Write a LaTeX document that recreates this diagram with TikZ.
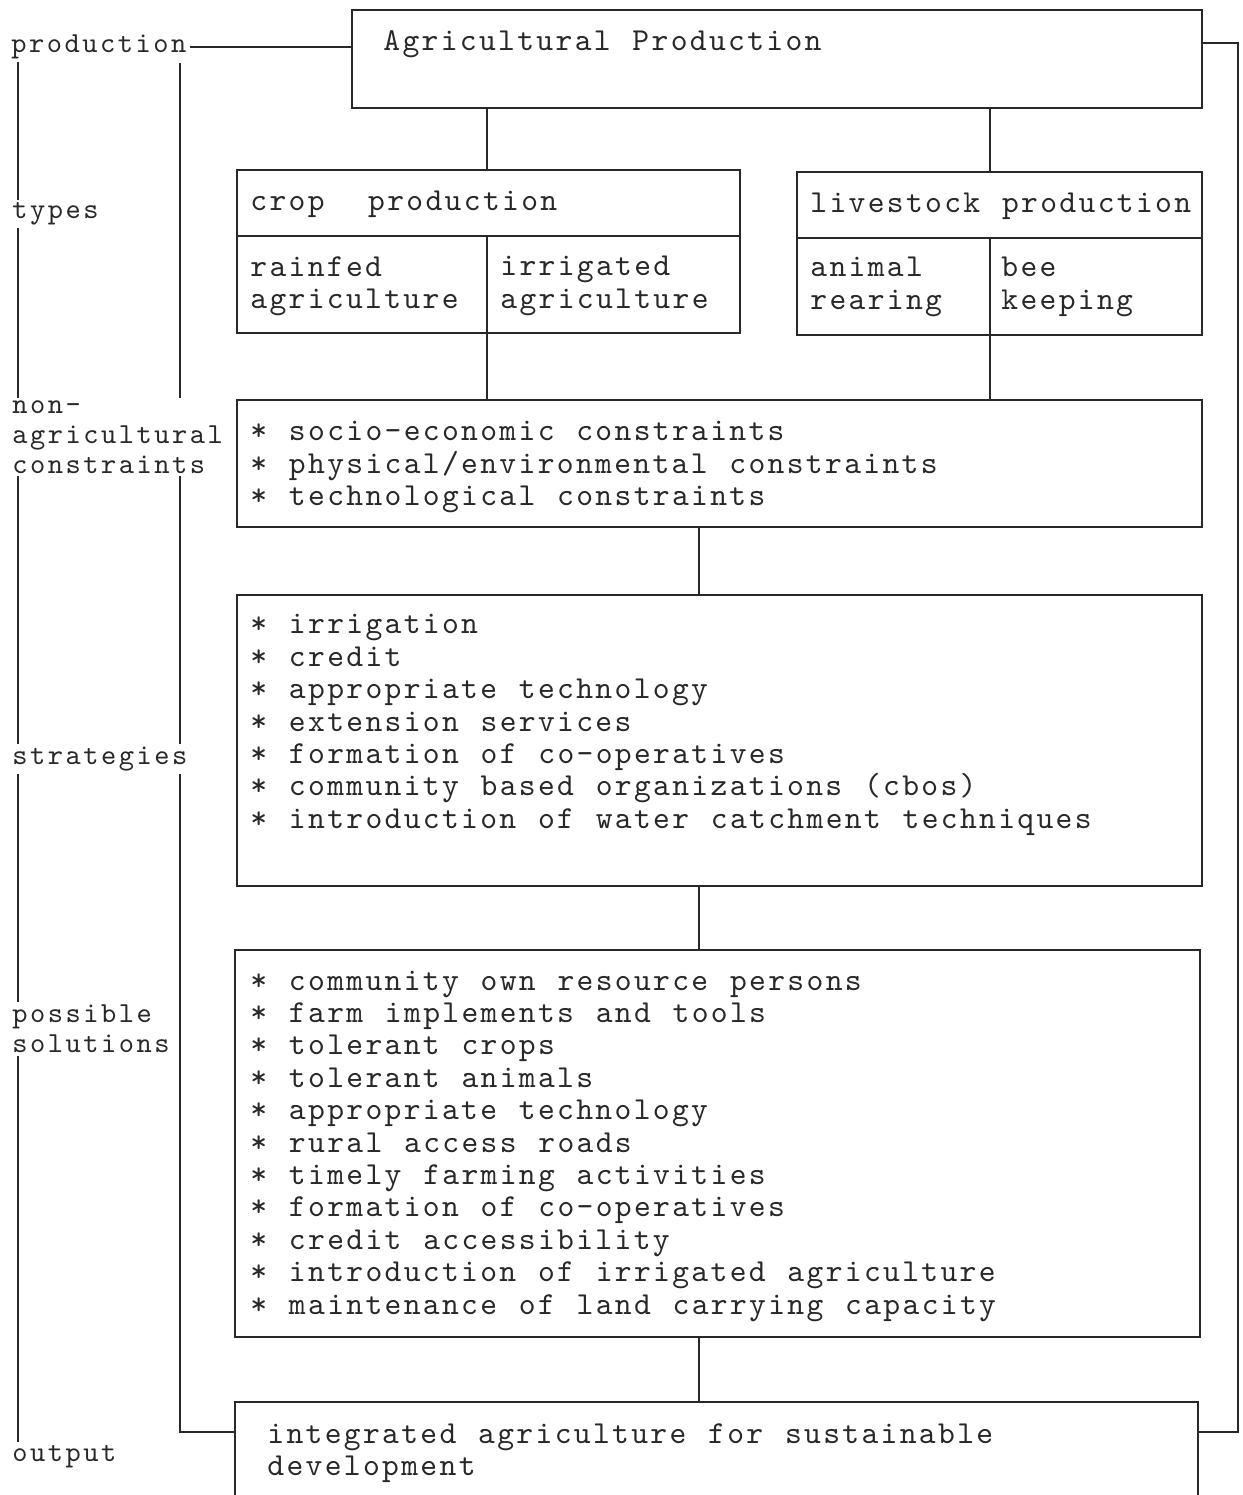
\documentclass[tikz,border=0pt]{standalone}
\usepackage{fontspec}
\newfontfamily\boxfont{lmmono10-regular.otf}[LetterSpace=7.3, WordSpace=1.139]
\newfontfamily\sidefont{lmmono10-regular.otf}[LetterSpace=8.7, WordSpace=1.166]
\usepackage{xcolor}
\usepackage{tikz}
\usetikzlibrary{positioning, calc, backgrounds}
\definecolor{inkgray}{RGB}{40,40,40}

\tikzset{
  frame/.style={draw=inkgray, line width=1pt, inner sep=0pt, outer sep=0pt, anchor=north west},
  boxtext/.style={text=inkgray, font=\boxfont\fontsize{16}{16.2}\selectfont, align=left, inner sep=0pt, anchor=west},
  sidetext/.style={text=inkgray, font=\sidefont\fontsize{14.5}{15}\selectfont, align=left, inner sep=1.5pt, anchor=west, fill=white},
  link/.style={draw=inkgray, line width=0.9pt},
  guide/.style={draw=inkgray, line width=0.6pt}
}

\begin{document}
\begin{tikzpicture}[x=0.5pt, y=-0.5pt]
    \useasboundingbox (0,0) rectangle (1243,1495);
    \clip (0,0) rectangle (1243,1495);

    % boxes
    \node[frame, minimum width=425pt, minimum height=49pt] (agri) at (352,10) {};
    \node[frame, minimum width=251.5pt, minimum height=81.5pt] (crop) at (237,170) {};
    \node[frame, minimum width=202.5pt, minimum height=81.5pt] (live) at (797,172) {};
    \node[frame, minimum width=482.5pt, minimum height=63.5pt] (cons) at (237,400) {};
    \node[frame, minimum width=482.5pt, minimum height=145.5pt] (strat) at (237,595) {};
    \node[frame, minimum width=482.5pt, minimum height=193.5pt] (sol) at (235,950) {};
    \node[frame, minimum width=481.5pt, minimum height=55pt] (out) at (235,1402) {};

    % box texts
    \node[boxtext] (agrilbl) at (383,44) {Agricultural Production};
    \node[boxtext] (croplbl) at (250,204) {crop~~production};
    \node[boxtext] (rainfed) at (250,286) {rainfed\\agriculture};
    \node[boxtext] (irrig) at (500,286) {irrigated\\agriculture};
    \node[boxtext] (livelbl) at (810,206) {livestock production};
    \node[boxtext] (animal) at (810,287) {animal\\rearing};
    \node[boxtext] (bee) at (1001,287) {bee\\keeping};
    \node[boxtext] (constext) at (250,467) {%
        * socio-economic constraints\\
        * physical/environmental constraints\\
        * technological constraints};
    \node[boxtext] (strattext) at (250,725) {%
        * irrigation\\
        * credit\\
        * appropriate technology\\
        * extension services\\
        * formation of co-operatives\\
        * community based organizations (cbos)\\
        * introduction of water catchment techniques};
    \node[boxtext] (soltext) at (250,1146) {%
        * community own resource persons\\
        * farm implements and tools\\
        * tolerant crops\\
        * tolerant animals\\
        * appropriate technology\\
        * rural access roads\\
        * timely farming activities\\
        * formation of co-operatives\\
        * credit accessibility\\
        * introduction of irrigated agriculture\\
        * maintenance of land carrying capacity};
    \node[boxtext] (outtext) at (267,1453) {integrated agriculture for sustainable\\development};

    % side labels
    \node[sidetext] (production) at (8,47) {production};
    \node[sidetext] (types) at (9,214) {types};
    \node[sidetext] (nonagri) at (9,437) {non-\\agricultural\\constraints};
    \node[sidetext] (strategies) at (9,759) {strategies};
    \node[sidetext] (solutions) at (9,1029) {possible\\solutions};
    \node[sidetext] (output) at (9,1457) {output};

    % cell dividers
    \coordinate (cropsplit) at (487,236);
    \coordinate (livesplit) at (990,238);
    \draw[link] (crop.west |- cropsplit) -- (crop.east |- cropsplit);
    \draw[link] (cropsplit) -- (cropsplit |- crop.south);
    \draw[link] (live.west |- livesplit) -- (live.east |- livesplit);
    \draw[link] (livesplit) -- (livesplit |- live.south);

    % connectors
    \coordinate (spine) at (699,0);
    \draw[link] (agri.south -| cropsplit) -- (crop.north -| cropsplit);
    \draw[link] (agri.south -| livesplit) -- (live.north -| livesplit);
    \draw[link] (crop.south -| cropsplit) -- (cons.north -| cropsplit);
    \draw[link] (live.south -| livesplit) -- (cons.north -| livesplit);
    \draw[link] (cons.south -| spine) -- (strat.north -| spine);
    \draw[link] (strat.south -| spine) -- (sol.north -| spine);
    \draw[link] (sol.south -| spine) -- (out.north -| spine);

    % feedback loops
    \coordinate (looptop) at (1238,43);
    \coordinate (loopbot) at (1238,1432);
    \draw[link] (agri.east |- looptop) -- (looptop) -- (loopbot) -- (out.east |- loopbot);
    \draw[link] (production.east) -- (agri.west |- production.east);

    \begin{scope}[on background layer]
        \coordinate (lefttop) at (180,63);
        \coordinate (leftbot) at (180,1432);
        \coordinate (guidetop) at (18,60);
        \coordinate (guidebot) at (18,1442);
        \draw[link] (lefttop) -- (leftbot) -- (out.west |- leftbot);
        \draw[guide] (guidetop) -- (guidebot);
    \end{scope}
\end{tikzpicture}
\end{document}
